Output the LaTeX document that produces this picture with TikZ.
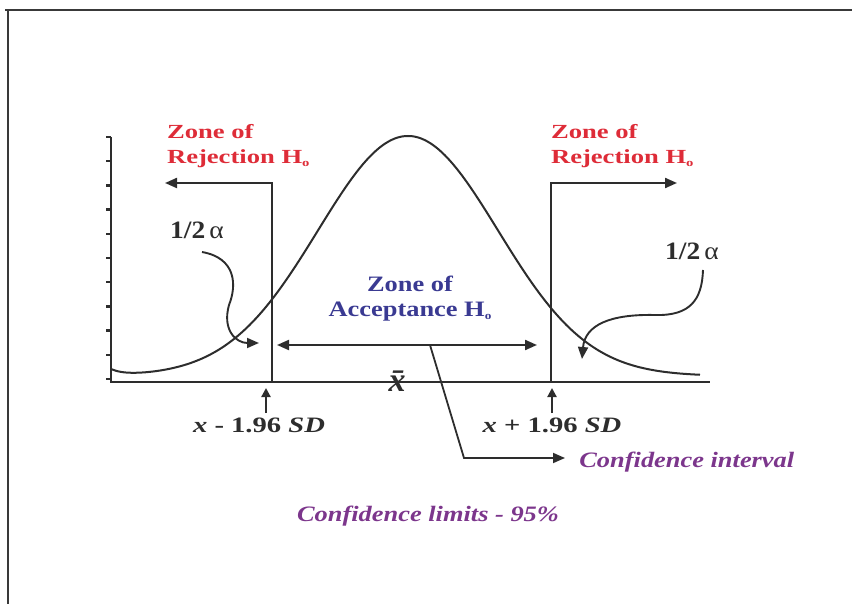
\documentclass[tikz,border=0pt]{standalone}
\usepackage{fontspec}
\setmainfont{Liberation Serif}
\newfontfamily\rejfont{Liberation Serif}[FakeStretch=1.33]
\newfontfamily\accfont{Liberation Serif}[FakeStretch=1.2]
\newfontfamily\boundfont{Liberation Serif}[FakeStretch=1.3]
\newfontfamily\alphafont{Liberation Serif}[FakeStretch=1.1]
\usepackage{xcolor}
\usepackage{tikz}
\usetikzlibrary{arrows.meta, positioning}
\definecolor{rejred}{RGB}{222,44,56}
\definecolor{accblue}{RGB}{58,58,146}
\definecolor{cipurple}{RGB}{124,54,140}
\definecolor{inkgray}{RGB}{45,45,45}
\newcommand{\Hnull}{H\raisebox{-2.5pt}{\fontsize{11}{11}\selectfont o}}

\begin{document}
\begin{tikzpicture}[x=1pt, y=-1pt, >={Triangle[length=12pt,width=10pt]},
  color=inkgray, line width=2.1pt, line join=miter,
  rejlabel/.style={text=rejred, font=\rejfont\bfseries\fontsize{20}{25}\selectfont, align=left, inner sep=0pt, anchor=north west},
  acclabel/.style={text=accblue, font=\accfont\bfseries\fontsize{22}{25}\selectfont, align=center, inner sep=0pt, anchor=north},
  boundlabel/.style={font=\boundfont\bfseries\fontsize{22}{26}\selectfont, anchor=base},
  alphalabel/.style={font=\alphafont\fontsize{25}{28}\selectfont, anchor=base},
  cilabel/.style={text=cipurple, font=\accfont\bfseries\itshape\fontsize{22}{26}\selectfont},
  tickarrow/.style={->, >={Triangle[length=9pt,width=9pt]}}]
  \useasboundingbox (0,0) rectangle (852,604);
  % frame
  \draw[line width=2.4pt, gray!45!black] (5,10) -- (852,10);
  \draw[line width=2.4pt, gray!45!black] (8,10) -- (8,604);
  % axes
  \draw[line width=2.6pt] (111,137) -- (111,382) -- (710,382);
  \foreach \k in {0,...,10}
    \draw[line width=2.4pt] (106,{137+24.2*\k}) -- (111,{137+24.2*\k});
  % bell curve
  \draw[line width=2pt] plot[domain=111:700, samples=120, smooth]
    (\x, {376-240*exp(-((\x-408)/90)^2/2)-6*exp(-(\x-111)/12)});
  % limits and zones
  \coordinate (lo) at (272,382);
  \coordinate (hi) at (551,382);
  \coordinate (loEnd) at (165,183);
  \coordinate (hiEnd) at (677,183);
  \draw[->] (lo) |- (loEnd);
  \draw[->] (hi) |- (hiEnd);
  \node[rejlabel] (rejL) at (166,123.5) {Zone of\\Rejection \Hnull};
  \node[rejlabel] (rejR) at (550,123.5) {Zone of\\Rejection \Hnull};
  \node[acclabel] (acc) at (410,275) {Zone of\\Acceptance \Hnull};
  \coordinate (accL) at (277,345);
  \coordinate (accR) at (537,345);
  \draw[<->] (accL) -- (accR);
  % half alpha tails
  \node[alphalabel] (alphaL) at (197,239) {\textbf{1/2}\,α};
  \node[alphalabel] (alphaR) at (692,260) {\textbf{1/2}\,α};
  \coordinate (alphaLfoot) at (202,252);
  \coordinate (alphaRfoot) at (703,270);
  \coordinate (tailL) at (259,343);
  \coordinate (tailR) at (582,359);
  \draw[->, line width=1.9pt] (alphaLfoot) .. controls (236,258) and (237,285) .. (229,305)
    .. controls (222,330) and (236,343) .. (tailL);
  \draw[->, line width=1.9pt] (alphaRfoot) .. controls (702,300) and (690,316) .. (655,315)
    .. controls (610,314) and (585,325) .. (tailR);
  % mean and bounds
  \node[font=\bfseries\itshape\fontsize{34}{36}\selectfont, anchor=base] (mean) at (397,391) {\={x}};
  \node[boundlabel] (loLbl) at (259,432) {\textit{x} - 1.96 \textit{SD}};
  \node[boundlabel] (hiLbl) at (552,432) {\textit{x} + 1.96 \textit{SD}};
  \coordinate (loTip) at (266,388);
  \coordinate (hiTip) at (552,388);
  \draw[tickarrow] (loLbl.north -| loTip) -- (loTip);
  \draw[tickarrow] (hiLbl.north -| hiTip) -- (hiTip);
  % confidence interval
  \node[cilabel, anchor=base west] (ci) at (575,467) {Confidence interval};
  \coordinate (ciFoot) at (430,345);
  \coordinate (ciBend) at (464,458);
  \draw[->, line width=1.8pt, shorten >=10pt] (ciFoot) -- (ciBend) -- (ciBend -| ci.west);
  \node[cilabel, anchor=base] (lim) at (428,521) {Confidence limits - 95\%};
\end{tikzpicture}
\end{document}
